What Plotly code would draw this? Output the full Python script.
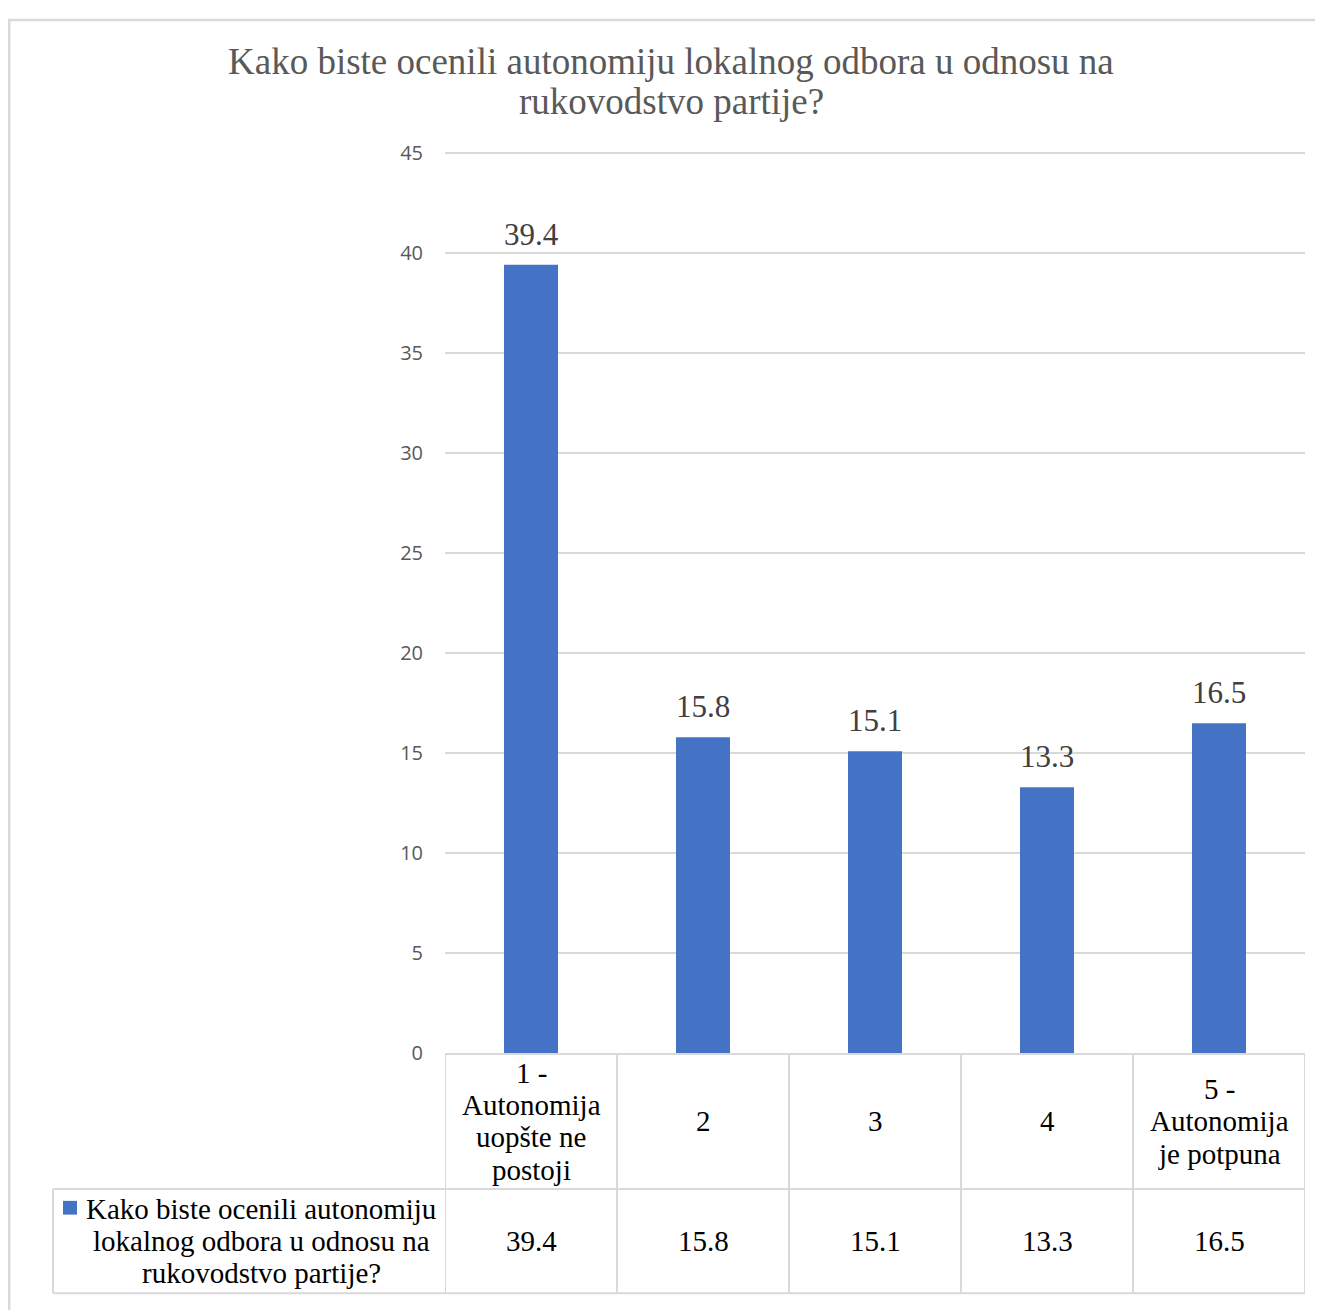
import plotly.graph_objects as go

W, H = 1323, 1310

categories = ["1 - Autonomija uopšte ne postoji", "2", "3", "4", "5 - Autonomija je potpuna"]
header_lines = [["1 -", "Autonomija", "uopšte ne", "postoji"], ["2"], ["3"], ["4"],
                ["5 -", "Autonomija", "je potpuna"]]
values = [39.4, 15.8, 15.1, 13.3, 16.5]
series_lines = ["Kako biste ocenili autonomiju", "lokalnog odbora u odnosu na", "rukovodstvo partije?"]
series_name = " ".join(series_lines)
title_lines = ["Kako biste ocenili autonomiju lokalnog odbora u odnosu na", "rukovodstvo partije?"]
y_ticks = [0, 5, 10, 15, 20, 25, 30, 35, 40, 45]

BLUE = "#4472C4"
GRID = "#d9d9d9"
SERIF = "Liberation Serif, Times New Roman, serif"
OFF = 8  # page body margin offset


def px_(x):
    return (x - OFF) / W


def py_(y):
    return 1 - (y - OFF) / H


# layout geometry (screen pixels)
PL, PR, PT, PB = 445, 1305, 145, 1062
ROW1_B, ROW2_B = 1200, 1306
LEG_L = 53
LINE_H = 33
Y_MAX = 45.2
top_px = PB - (PB - PT) * Y_MAX / 45

fig = go.Figure()
fig.add_trace(go.Bar(
    x=categories, y=values, name=series_name,
    marker=dict(color=BLUE, line=dict(width=0)),
    width=0.314, showlegend=False,
))

shapes = []
# outer chart border
shapes.append(dict(type="rect", xref="paper", yref="paper",
                   x0=px_(9.2), x1=px_(1360), y0=py_(10), y1=py_(1360),
                   line=dict(color=GRID, width=2.5)))
# table vertical lines at category boundaries
for i in range(len(categories) + 1):
    shapes.append(dict(type="line", xref="x", yref="paper",
                       x0=i - 0.5, x1=i - 0.5, y0=py_(PB), y1=py_(ROW2_B),
                       line=dict(color=GRID, width=2)))
# table horizontal lines
for yy in (ROW1_B, ROW2_B):
    shapes.append(dict(type="line", xref="paper", yref="paper",
                       x0=px_(LEG_L), x1=px_(PR), y0=py_(yy), y1=py_(yy),
                       line=dict(color=GRID, width=2)))
# legend cell left border
shapes.append(dict(type="line", xref="paper", yref="paper",
                   x0=px_(LEG_L), x1=px_(LEG_L), y0=py_(ROW1_B), y1=py_(ROW2_B),
                   line=dict(color=GRID, width=2)))
# legend key
shapes.append(dict(type="rect", xref="paper", yref="paper",
                   x0=px_(63), x1=px_(77), y0=py_(1226), y1=py_(1212),
                   fillcolor=BLUE, line=dict(width=0)))

annotations = []
# data labels above bars
for i, v in enumerate(values):
    annotations.append(dict(text=f"{v:.1f}", xref="x", yref="y", x=i, y=v,
                            xanchor="center", yanchor="bottom", yshift=11, showarrow=False,
                            font=dict(family=SERIF, size=31, color="#404040")))
# title
for k, t in enumerate(title_lines):
    annotations.append(dict(text=t, xref="paper", yref="paper", x=px_(671), y=py_(52 + 41 * k),
                            xanchor="center", yanchor="middle", showarrow=False,
                            font=dict(family=SERIF, size=37, color="#595959")))
# header cells
hc = (PB + ROW1_B) / 2
for i, lines in enumerate(header_lines):
    n = len(lines)
    for k, t in enumerate(lines):
        annotations.append(dict(text=t, xref="x", yref="paper", x=i,
                                y=py_(hc + (k - (n - 1) / 2) * LINE_H),
                                xanchor="center", yanchor="middle", showarrow=False,
                                font=dict(family=SERIF, size=29, color="#000000")))
# data row values
dc = (ROW1_B + ROW2_B) / 2
for i, v in enumerate(values):
    annotations.append(dict(text=f"{v:.1f}", xref="x", yref="paper", x=i, y=py_(dc),
                            xanchor="center", yanchor="middle", showarrow=False,
                            font=dict(family=SERIF, size=29, color="#000000")))
# legend text
n = len(series_lines)
for k, t in enumerate(series_lines):
    annotations.append(dict(text=t, xref="paper", yref="paper", x=px_(261),
                            y=py_(dc + (k - (n - 1) / 2) * 32.5),
                            xanchor="center", yanchor="middle", showarrow=False,
                            font=dict(family=SERIF, size=29, color="#000000")))

fig.update_layout(
    width=W, height=H,
    margin=dict(l=0, r=0, t=0, b=0),
    paper_bgcolor="white", plot_bgcolor="white",
    shapes=shapes, annotations=annotations,
    xaxis=dict(domain=[px_(PL), px_(PR)], range=[-0.5, 4.5], showticklabels=False,
               showgrid=False, zeroline=False, showline=True, linecolor=GRID, linewidth=2,
               fixedrange=True),
    yaxis=dict(domain=[py_(PB), py_(top_px)], range=[0, Y_MAX], tickvals=y_ticks,
               showgrid=True, gridcolor=GRID, gridwidth=1.5, zeroline=False,
               showline=False, ticks="", ticklabelstandoff=21,
               tickfont=dict(family="Open Sans, sans-serif", size=20, color="#595959"),
               fixedrange=True),
    showlegend=False,
)

fig.write_html("out.html")
